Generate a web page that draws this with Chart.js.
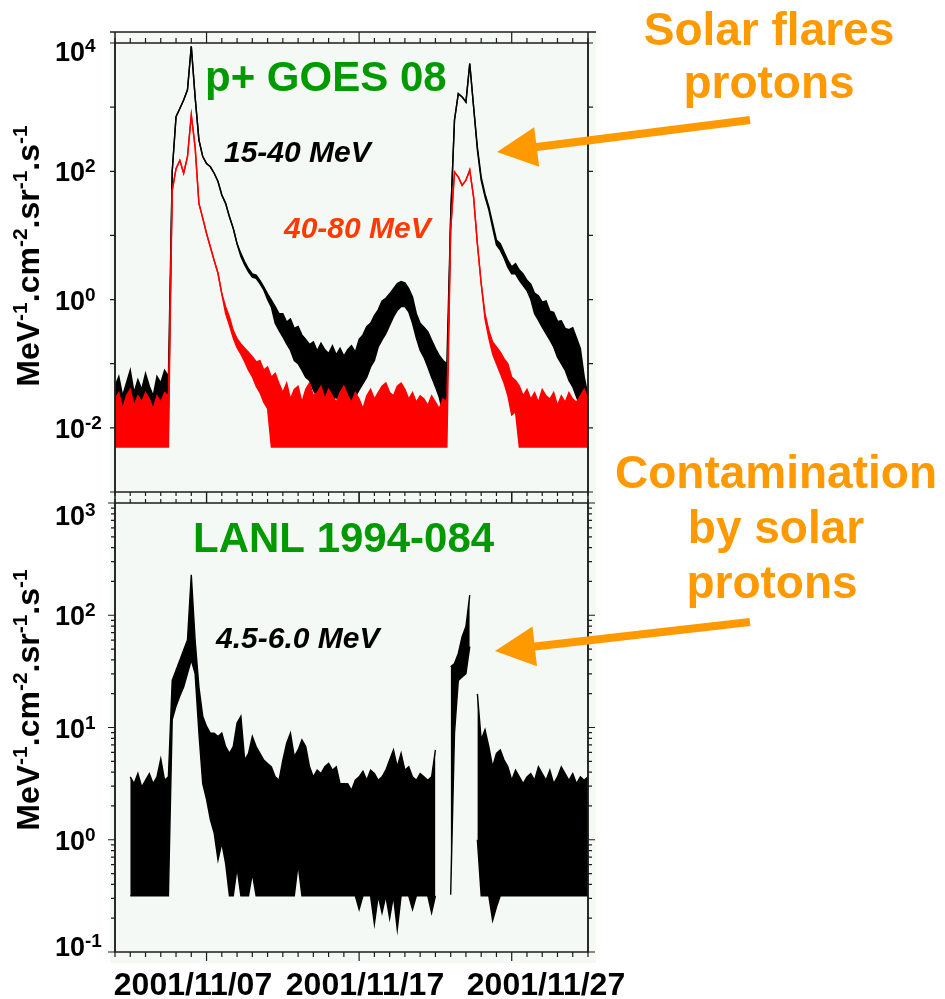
<!DOCTYPE html>
<html>
<head>
<meta charset="utf-8">
<title>GOES 08 / LANL 1994-084 protons, November 2001</title>
<script src="https://cdn.jsdelivr.net/npm/chart.js@4.4.1/dist/chart.umd.min.js"></script>
<style>
    html, body { margin: 0; padding: 0; background: #fff; }
    #wrap { position: relative; width: 945px; height: 999px; }
    #wrap canvas { position: absolute; left: 0; top: 0; }
</style>
</head>
<body>
<div id="wrap">
    <canvas id="goesChart" width="945" height="999"></canvas>
    <canvas id="lanlChart" width="945" height="999"></canvas>
</div>
<script>
// One sample every 6 hours, starting 2001/11/01 00:00 UT (index 0 = day 0).
// Values are log10 of the flux (MeV-1.cm-2.sr-1.s-1).
// Each channel is kept as an upper and lower envelope of the noisy trace.
const SAMPLE_HOURS = 6;
const DAY_SPAN = 31;

// GOES 08, 15-40 MeV (black)
const goes15to40HighLog = [
    -1.35, -1.2, -1.5, -1.3, -1.1, -1.45, -1.25, -1.4, -1.15, -1.35, -1.5, -1.2, -1.3, -1.1, -1.2,
    2.0, 2.85, 2.98, 3.11, 3.27, 3.95,
    3.16, 2.49, 2.23, 2.12, 2.07, 1.97, 1.84, 1.63, 1.50, 1.29,
    1.11, 0.87, 0.72, 0.59, 0.48, 0.40, 0.38, 0.30, 0.20, 0.09,
    -0.01, -0.11, -0.22, -0.22, -0.35, -0.30, -0.45, -0.42, -0.55, -0.62,
    -0.70, -0.66, -0.80, -0.68, -0.78, -0.84, -0.72, -0.86, -0.76, -0.88,
    -0.78, -0.72, -0.82, -0.62, -0.55, -0.42, -0.37, -0.25, -0.16, -0.02,
    0.02, 0.09, 0.17, 0.25, 0.28, 0.26, 0.17, 0.04, -0.22, -0.37,
    -0.43, -0.50, -0.63, -0.76, -0.87, -0.95, -1.00, 1.3, 2.80, 3.21,
    3.16, 3.08, 3.68, 3.01, 2.38, 1.91, 1.65, 1.45, 1.19, 0.93,
    0.87, 0.74, 0.61, 0.51, 0.56, 0.46, 0.40, 0.30, 0.24, 0.10,
    0.06, -0.04, -0.02, -0.18, -0.20, -0.34, -0.33, -0.45, -0.47, -0.44,
    -0.60, -0.76, -1.2, -1.5
];
const goes15to40LowLog = [
    -1.85, -1.75, -1.9, -1.8, -1.7, -1.95, -1.8, -1.75, -1.9, -1.85, -1.7, -1.8, -1.9, -1.75, -1.9,
    2.0, 2.85, 2.98, 3.11, 3.27, 3.95,
    3.16, 2.49, 2.23, 2.12, 2.07, 1.97, 1.84, 1.63, 1.50, 1.29,
    1.11, 0.87, 0.67, 0.54, 0.43, 0.35, 0.33, 0.25, 0.15, 0.0,
    -0.12, -0.37, -0.48, -0.58, -0.69, -0.79, -0.95, -1.0, -1.10, -1.21,
    -1.26, -1.41, -1.52, -1.67, -1.62, -1.47, -1.57, -1.52, -1.62, -1.52,
    -1.57, -1.62, -1.52, -1.41, -1.31, -1.21, -1.05, -0.95, -0.74, -0.63,
    -0.53, -0.40, -0.27, -0.17, -0.11, -0.11, -0.19, -0.37, -0.60, -0.79,
    -0.90, -1.05, -1.21, -1.36, -1.52, -1.78, -1.57, 1.3, 2.80, 3.21,
    3.16, 3.08, 3.68, 3.01, 2.33, 1.86, 1.60, 1.40, 1.12, 0.85,
    0.77, 0.65, 0.50, 0.40, 0.40, 0.30, 0.22, 0.14, 0.0, -0.22,
    -0.32, -0.43, -0.53, -0.63, -0.74, -0.90, -1.0, -1.10, -1.26, -1.36,
    -1.52, -1.67, -1.88, -1.93
];

// GOES 08, 40-80 MeV (red)
const goes40to80HighLog = [
    -1.55, -1.45, -1.7, -1.5, -1.4, -1.65, -1.5, -1.6, -1.45, -1.55, -1.7, -1.5, -1.6, -1.45, -1.5,
    1.7, 2.04, 2.17, 1.97, 2.23, 2.88,
    2.38, 1.50, 1.27, 1.03, 0.82, 0.61, 0.41, 0.09, -0.11, -0.27,
    -0.48, -0.61, -0.69, -0.76, -0.82, -0.89, -0.97, -0.95, -1.10, -1.05, -1.21, -1.15, -1.31,
    -1.45, -1.3, -1.55, -1.4, -1.35, -1.6, -1.4, -1.3, -1.5, -1.45, -1.35, -1.55, -1.4, -1.5, -1.6, -1.45, -1.35,
    -1.5, -1.6, -1.45, -1.55, -1.7, -1.5, -1.4, -1.55, -1.45, -1.35, -1.3, -1.45, -1.5, -1.35,
    -1.3, -1.4, -1.55, -1.45, -1.6, -1.5, -1.55, -1.65, -1.5, -1.6, -1.7, -1.55, -1.6,
    1.08, 1.99, 1.91, 1.78, 1.86, 2.02, 1.60, 0.87, 0.25, -0.22, -0.48, -0.66, -0.74, -0.82, -0.92, -1.0, -1.21, -1.26,
    -1.35, -1.5, -1.4, -1.55, -1.45, -1.6, -1.4, -1.5, -1.55, -1.45, -1.65, -1.5, -1.6, -1.45, -1.55, -1.6, -1.5, -1.4, -1.55
];
const goes40to80LowLog = [
    -2.3, -2.3, -2.3, -2.3, -2.3, -2.3, -2.3, -2.3, -2.3, -2.3, -2.3, -2.3, -2.3, -2.3, -2.3,
    1.7, 2.04, 2.17, 1.97, 2.23, 2.88, 2.38, 1.50, 1.27, 1.03, 0.82, 0.61, 0.41, 0.09,
    -0.22, -0.40, -0.60, -0.75, -0.85, -0.97, -1.1, -1.2, -1.35, -1.45, -1.6, -1.7, -2.3,
    -2.3, -2.3, -2.3, -2.3, -2.3, -2.3, -2.3, -2.3, -2.3, -2.3, -2.3, -2.3, -2.3, -2.3, -2.3, -2.3,
    -2.3, -2.3, -2.3, -2.3, -2.3, -2.3, -2.3, -2.3, -2.3, -2.3, -2.3, -2.3, -2.3, -2.3, -2.3, -2.3,
    -2.3, -2.3, -2.3, -2.3, -2.3, -2.3, -2.3, -2.3, -2.3, -2.3, -2.3, -2.3, -2.3, -2.3,
    1.08, 1.99, 1.91, 1.78, 1.86, 2.02, 1.60, 0.87, 0.25,
    -0.3, -0.6, -0.85, -1.0, -1.15, -1.3, -1.5, -1.8, -1.75,
    -2.3, -2.3, -2.3, -2.3, -2.3, -2.3, -2.3, -2.3, -2.3, -2.3, -2.3, -2.3, -2.3, -2.3, -2.3, -2.3, -2.3, -2.3, -2.3
];

// LANL 1994-084, 4.5-6.0 MeV (black); null = no data
const lanlHighLog = [
    null, null, null, null,
    0.56, 0.5, 0.59, 0.47, 0.53, 0.59, 0.5, 0.56, 0.72, 0.53, 0.56,
    1.42, 1.51, 1.60, 1.69, 1.78, 2.36, 1.78, 1.36, 1.10, 1.01,
    0.95, 0.95, 0.92, 0.95, 0.83, 0.77, 0.83, 1.04, 1.10, 0.71,
    0.77, 0.92, 0.83, 0.77, 0.71, 0.68, 0.65, 0.56, 0.53, 0.71,
    0.86, 0.95, 0.74, 0.80, 0.89, 0.83, 0.65, 0.56, 0.62, 0.59,
    0.65, 0.68, 0.62, 0.65, 0.50, 0.50, 0.50, 0.44, 0.53, 0.56,
    0.61, 0.53, 0.62, 0.59, 0.53, 0.56, 0.62, 0.71, 0.80, 0.65,
    0.77, 0.62, 0.65, 0.56, 0.53, 0.59, 0.56, 0.53, 0.56, 0.80,
    null, null, null,
    1.54, 1.57, 1.66, 1.81, 1.90, 2.18, null,
    1.30, 0.89, 0.98, 0.83, 0.65, 0.77, 0.80, 0.71, 0.65, 0.53,
    0.62, 0.56, 0.50, 0.56, 0.59, 0.53, 0.65, 0.59, 0.53, 0.62,
    0.50, 0.56, 0.65, 0.59, 0.53, 0.59, 0.50, 0.56, 0.53, 0.56
];
const lanlLowLog = [
    null, null, null, null,
    -0.5, -0.5, -0.5, -0.5, -0.5, -0.5, -0.5, -0.5, -0.5, -0.5, -0.5,
    1.07, 1.19, 1.28, 1.36, 1.48, 1.60, 1.48, 0.95, 0.50, 0.36,
    0.18, 0.06, -0.18, -0.03, -0.21, -0.5, -0.5, -0.25, -0.5, -0.5,
    -0.5, -0.3, -0.5, -0.5, -0.5, -0.5, -0.5, -0.5, -0.5, -0.5,
    -0.5, -0.5, -0.5, -0.22, -0.5, -0.5, -0.5, -0.5, -0.5, -0.5,
    -0.5, -0.5, -0.5, -0.5, -0.5, -0.5, -0.5, -0.5, -0.5, -0.62,
    -0.5, -0.5, -0.5, -0.75, -0.5, -0.65, -0.5, -0.70, -0.5, -0.80,
    -0.5, -0.5, -0.5, -0.62, -0.5, -0.5, -0.5, -0.5, -0.65, -0.5,
    null, null, null,
    -0.49, 0.95, 1.42, 1.45, 1.48, 1.72, null,
    0.0, -0.5, -0.5, -0.5, -0.72, -0.60, -0.5, -0.5, -0.5, -0.5,
    -0.5, -0.5, -0.5, -0.5, -0.5, -0.5, -0.5, -0.5, -0.5, -0.5,
    -0.5, -0.5, -0.5, -0.5, -0.5, -0.5, -0.5, -0.5, -0.5, -0.5
];

// axes
const dateTickDays = [6, 16, 26];
const dateTickLabels = ['2001/11/07', '2001/11/17', '2001/11/27'];
const goesLabelExponents = [-2, 0, 2, 4];
const lanlLabelExponents = [-1, 0, 1, 2, 3];
const axisTitleParts = [['MeV', false], ['-1', true], ['.cm', false], ['-2', true],
                        ['.sr', false], ['-1', true], ['.s', false], ['-1', true]];

const FONT = '"Liberation Sans", Arial, sans-serif';
const GREEN = '#009a00';
const ORANGE = '#ff9900';

function toPoints(logs) {
    return logs.map((v, i) => ({
        x: i * SAMPLE_HOURS / 24,
        y: v === null ? null : Math.pow(10, v)
    }));
}

// upper envelope filled down to the lower one
function band(label, high, low, color) {
    const common = { borderColor: color, backgroundColor: color, borderWidth: 1.4,
                     pointRadius: 0, tension: 0, spanGaps: false };
    return [
        Object.assign({ label: label, data: toPoints(high), fill: '+1' }, common),
        Object.assign({ label: label + ' low', data: toPoints(low), fill: false }, common)
    ];
}

function drawSci(ctx, exp, x, y) {
    ctx.textAlign = 'left';
    ctx.textBaseline = 'alphabetic';
    ctx.font = 'bold 27px ' + FONT;
    ctx.fillText('10', x, y + 10);
    const w = ctx.measureText('10').width;
    ctx.font = 'bold 19px ' + FONT;
    ctx.fillText(String(exp), x + w, y + 1);
}

function drawAxisTitle(ctx, cx, cy) {
    const big = 'bold 32px ' + FONT, small = 'bold 21px ' + FONT;
    let total = 0;
    axisTitleParts.forEach(([t, sup]) => {
        ctx.font = sup ? small : big;
        total += ctx.measureText(t).width;
    });
    ctx.save();
    ctx.translate(cx, cy);
    ctx.rotate(-Math.PI / 2);
    ctx.textAlign = 'left';
    ctx.textBaseline = 'alphabetic';
    let x = -total / 2;
    axisTitleParts.forEach(([t, sup]) => {
        ctx.font = sup ? small : big;
        ctx.fillText(t, x, sup ? -12 : 0);
        x += ctx.measureText(t).width;
    });
    ctx.restore();
}

function drawArrow(ctx, from, to) {
    const dx = to[0] - from[0], dy = to[1] - from[1];
    const len = Math.hypot(dx, dy), ux = dx / len, uy = dy / len;
    const bx = to[0] - ux * 40, by = to[1] - uy * 40;
    ctx.strokeStyle = ORANGE;
    ctx.fillStyle = ORANGE;
    ctx.lineWidth = 8;
    ctx.beginPath();
    ctx.moveTo(from[0], from[1]);
    ctx.lineTo(bx + ux * 2, by + uy * 2);
    ctx.stroke();
    ctx.beginPath();
    ctx.moveTo(to[0], to[1]);
    ctx.lineTo(bx - uy * 20, by + ux * 20);
    ctx.lineTo(bx + uy * 20, by - ux * 20);
    ctx.closePath();
    ctx.fill();
}

// frame, ticks, superscript labels and annotations
const panelDecor = {
    id: 'panelDecor',
    beforeDraw(chart, args, o) {
        if (!o.background) return;
        const b = o.background, ctx = chart.ctx;
        ctx.save();
        ctx.fillStyle = b.color;
        ctx.fillRect(b.left, b.top, b.right - b.left, b.bottom - b.top);
        ctx.restore();
    },
    afterDraw(chart, args, o) {
        const ctx = chart.ctx;
        const { left, right, top, bottom } = chart.chartArea;
        const xs = chart.scales.x, ys = chart.scales.y;
        ctx.save();
        ctx.strokeStyle = '#1c1c1c';
        ctx.fillStyle = '#000';
        ctx.lineWidth = 1.5;
        ctx.strokeRect(left, top, right - left, bottom - top);
        (o.lines || []).forEach(l => {
            ctx.beginPath();
            ctx.moveTo(l[0], l[1]);
            ctx.lineTo(l[2], l[3]);
            ctx.stroke();
        });

        // daily ticks on the time axis, longer every 10 days
        ctx.lineWidth = 1.2;
        for (let d = 0; d <= DAY_SPAN; d++) {
            const px = xs.getPixelForValue(d);
            const major = dateTickDays.includes(d);
            const up = major ? o.xTicksTop[1] : o.xTicksTop[0];
            const down = major ? o.xTicksBottom[1] : o.xTicksBottom[0];
            ctx.beginPath();
            ctx.moveTo(px, top); ctx.lineTo(px, top - up);
            ctx.moveTo(px, bottom); ctx.lineTo(px, bottom + down);
            ctx.stroke();
        }

        // log ticks on both sides
        for (let e = o.decades[0]; e <= o.decades[1]; e++) {
            for (let m = 1; m <= 9; m++) {
                if (m > 1 && !o.minorTicks) continue;
                const v = m * Math.pow(10, e);
                if (v < ys.min * 0.999 || v > ys.max * 1.001) continue;
                const py = ys.getPixelForValue(v);
                const len = m === 1 ? o.yTickLen[0] : o.yTickLen[1];
                ctx.beginPath();
                ctx.moveTo(left, py); ctx.lineTo(left - len, py);
                ctx.moveTo(right, py); ctx.lineTo(right + len, py);
                ctx.stroke();
            }
        }
        // labels at the frame edges sit a little inside
        o.labelExponents.forEach(e => {
            const py = ys.getPixelForValue(Math.pow(10, e)) + ((o.labelShift || {})[e] || 0);
            drawSci(ctx, e, 55, py);
        });

        if (o.dateLabelCenters) {
            ctx.font = 'bold 32px ' + FONT;
            ctx.textAlign = 'center';
            ctx.textBaseline = 'alphabetic';
            dateTickLabels.forEach((t, i) => ctx.fillText(t, o.dateLabelCenters[i], 995));
        }

        drawAxisTitle(ctx, o.title[0], o.title[1]);

        (o.notes || []).forEach(n => {
            ctx.font = n.font;
            ctx.fillStyle = n.color;
            ctx.textAlign = n.align || 'left';
            ctx.textBaseline = 'alphabetic';
            ctx.fillText(n.text, n.x, n.y);
        });
        (o.arrows || []).forEach(a => drawArrow(ctx, a[0], a[1]));
        ctx.restore();
    }
};

function panelOptions(yMin, yMax, padTop, padBottom, decor) {
    return {
        responsive: false,
        animation: false,
        events: [],
        layout: { padding: { left: 115, right: 357, top: padTop, bottom: padBottom } },
        scales: {
            x: { type: 'linear', min: 0, max: DAY_SPAN, display: false },
            y: { type: 'logarithmic', min: yMin, max: yMax, display: false }
        },
        plugins: { legend: { display: false }, tooltip: { enabled: false }, panelDecor: decor }
    };
}

// Top panel: GOES 08 protons
const goesChart = new Chart(document.getElementById('goesChart'), {
    type: 'line',
    data: {
        datasets: [
            ...band('40-80 MeV', goes40to80HighLog, goes40to80LowLog, '#ff0000'),
            ...band('15-40 MeV', goes15to40HighLog, goes15to40LowLog, '#000000')
        ]
    },
    options: panelOptions(1e-3, 1e4, 43, 507, {
        background: { color: '#f4f9f5', left: 110, right: 596, top: 32, bottom: 963 },
        lines: [[110, 32, 596, 32], [115, 32, 115, 952], [588, 32, 588, 952]],
        xTicksTop: [5, 11], xTicksBottom: [4, 11],
        decades: [-3, 4], minorTicks: false, yTickLen: [5, 3],
        labelExponents: goesLabelExponents,
        labelShift: { 4: 8 },
        title: [39, 256],
        notes: [
            { text: 'p+ GOES 08', x: 205, y: 91, font: 'bold 42px ' + FONT, color: GREEN },
            { text: '15-40 MeV', x: 224, y: 162, font: 'italic bold 30px ' + FONT, color: '#000' },
            { text: '40-80 MeV', x: 284, y: 238, font: 'italic bold 30px ' + FONT, color: '#ff3a00' },
            { text: 'Solar flares', x: 769, y: 45, font: 'bold 46px ' + FONT, color: ORANGE, align: 'center' },
            { text: 'protons', x: 769, y: 98, font: 'bold 46px ' + FONT, color: ORANGE, align: 'center' }
        ],
        arrows: [[[750, 120], [497, 152]]]
    }),
    plugins: [panelDecor]
});

// Bottom panel: LANL 1994-084 contamination
const lanlChart = new Chart(document.getElementById('lanlChart'), {
    type: 'line',
    data: {
        datasets: band('4.5-6.0 MeV', lanlHighLog, lanlLowLog, '#000000')
    },
    options: panelOptions(0.1, 1000, 503, 47, {
        xTicksTop: [4, 11], xTicksBottom: [5, 9],
        decades: [-1, 3], minorTicks: true, yTickLen: [7, 4],
        labelExponents: lanlLabelExponents,
        labelShift: { 3: 12, '-1': -6 },
        dateLabelCenters: [193, 365, 546],
        title: [39, 700],
        notes: [
            { text: 'LANL 1994-084', x: 193, y: 552, font: 'bold 42px ' + FONT, color: GREEN },
            { text: '4.5-6.0 MeV', x: 216, y: 648, font: 'italic bold 30px ' + FONT, color: '#000' },
            { text: 'Contamination', x: 776, y: 488, font: 'bold 46px ' + FONT, color: ORANGE, align: 'center' },
            { text: 'by solar', x: 776, y: 543, font: 'bold 46px ' + FONT, color: ORANGE, align: 'center' },
            { text: 'protons', x: 772, y: 598, font: 'bold 46px ' + FONT, color: ORANGE, align: 'center' }
        ],
        arrows: [[[750, 622], [495, 651]]]
    }),
    plugins: [panelDecor]
});
</script>
